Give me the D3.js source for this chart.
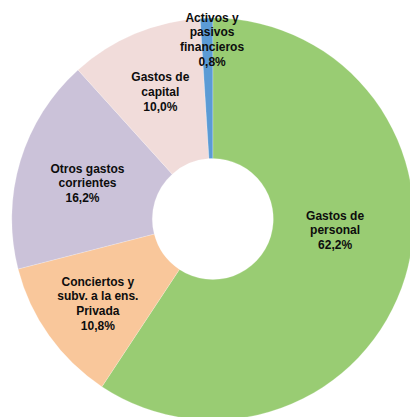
<!DOCTYPE html>
<html lang="es">
<head>
  <meta charset="UTF-8" />
  <title>Gastos</title>
  <script src="https://cdn.jsdelivr.net/npm/d3@7"></script>
  <style>
    body { margin: 0; background: #fff; }
    svg { display: block; }
    .lbl { font-family: "Liberation Sans", Arial, sans-serif; font-size: 12px; font-weight: bold; fill: #0d0d0d; }
  </style>
</head>
<body>
  <script>
    // slices, clockwise from 12 o'clock
    var categories = ["Gastos de personal", "Conciertos y subv. a la ens. Privada",
      "Otros gastos corrientes", "Gastos de capital", "Activos y pasivos financieros"];
    // share of the ring as drawn
    var shares = [59.3, 11.7, 17.3, 10.7, 1.0];
    // printed labels
    var labelLines = [
      ["Gastos de", "personal", "62,2%"],
      ["Conciertos y", "subv. a la ens.", "Privada", "10,8%"],
      ["Otros gastos", "corrientes", "16,2%"],
      ["Gastos de", "capital", "10,0%"],
      ["Activos y", "pasivos", "financieros", "0,8%"]
    ];
    var colors = ["#99cc73", "#f9c79b", "#cbc2d9", "#f1dcda", "#5b9bd5"];

    var w = 410,
      h = 417,
      cx = 212.8,
      cy = 219,
      outerR = 201,
      innerR = 60.5;

    // nudges from arc centroid so labels sit where they do in the original
    var nudge = [[-7, -28], [-5, 6], [4, 3], [0, -3], [3.5, -44.6]];

    var svg = d3.select("body").append("svg")
      .attr("width", w)
      .attr("height", h);

    var g = svg.append("g")
      .attr("transform", "translate(" + cx + "," + cy + ")");

    var pie = d3.pie().sort(null).value(function(d) { return d; });
    var arcs = pie(shares);

    var arc = d3.arc().innerRadius(innerR).outerRadius(outerR);
    var labelArc = d3.arc().innerRadius(135).outerRadius(135);

    g.selectAll("path")
      .data(arcs)
      .enter()
      .append("path")
      .attr("d", arc)
      .attr("fill", function(d, i) { return colors[i]; })
      .attr("stroke", "#fff")
      .attr("stroke-opacity", 0.4)
      .attr("stroke-width", 0.5);

    var lineH = 14.7;

    var labels = g.selectAll("text.lbl")
      .data(arcs)
      .enter()
      .append("text")
      .attr("class", "lbl")
      .attr("text-anchor", "middle")
      .attr("transform", function(d, i) {
        var c = labelArc.centroid(d);
        return "translate(" + (c[0] + nudge[i][0]) + "," + (c[1] + nudge[i][1]) + ")";
      });

    labels.each(function(d, i) {
      var lines = labelLines[i];
      var t = d3.select(this);
      lines.forEach(function(s, j) {
        t.append("tspan")
          .attr("x", (i == 2 && j == 2) ? -5 : 0)
          .attr("y", (j - (lines.length - 1) / 2) * lineH)
          .attr("dy", "0.36em")
          .text(s);
      });
    });
  </script>
</body>
</html>
